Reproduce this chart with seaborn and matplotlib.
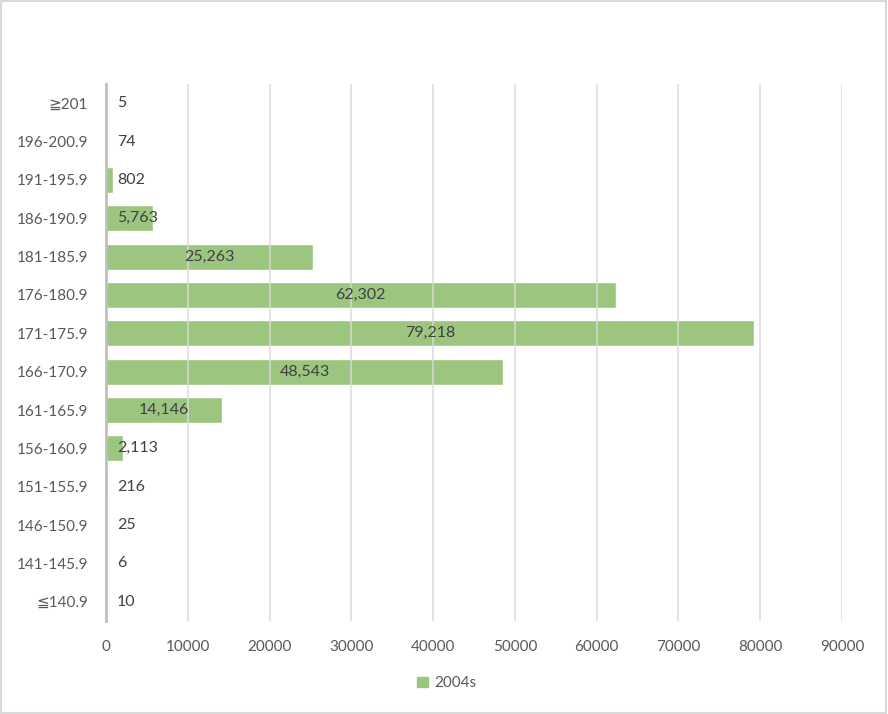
import matplotlib
matplotlib.use("Agg")
import matplotlib.pyplot as plt
import matplotlib.patches as mpatches
import seaborn as sns
import pandas as pd

# height ranges (top of chart first) and counts for 2004s
ranges = ['≧201', '196-200.9', '191-195.9', '186-190.9', '181-185.9', '176-180.9',
          '171-175.9', '166-170.9', '161-165.9', '156-160.9', '151-155.9',
          '146-150.9', '141-145.9', '≦140.9']
counts = [5, 74, 802, 5763, 25263, 62302, 79218, 48543, 14146, 2113, 216, 25, 6, 10]
xticks = [0, 10000, 20000, 30000, 40000, 50000, 60000, 70000, 80000, 90000]
series_name = '2004s'

df = pd.DataFrame({'range': ranges, 'count': counts})

sns.set_style('white')
plt.rcParams['font.family'] = ['Lato', 'DejaVu Sans']

txt = '#595959'
bar_col = '#9cc57f'
fs = 11

fig = plt.figure(figsize=(8.88, 7.14), dpi=100)
ax = fig.add_axes([0.1194, 0.1303, 0.8288, 0.7521])

sns.barplot(data=df, x='count', y='range', orient='h', color=bar_col,
            width=0.68, saturation=1, ax=ax)

ax.set_xlim(0, 90000)
ax.set_xticks(xticks)
ax.set_xticklabels([str(t) for t in xticks])
ax.set_xlabel('')
ax.set_ylabel('')
ax.grid(axis='x', color='#d9d9d9', linewidth=1.3, alpha=0.8)
ax.set_axisbelow(False)
ax.tick_params(axis='x', length=0, pad=14, labelsize=fs, labelcolor=txt)
ax.tick_params(axis='y', length=0, pad=13, labelsize=fs, labelcolor=txt)
for s in ['top', 'right', 'bottom']:
    ax.spines[s].set_visible(False)
ax.spines['left'].set_color('#bfbfbf')
ax.spines['left'].set_linewidth(2)
ax.spines['left'].set_zorder(5)

# data labels, centred on the bar but kept clear of the axis
for i, v in enumerate(counts):
    if v < 8000:
        ax.text(1350, i, f'{v:,}', ha='left', va='center', fontsize=fs + 0.5, color='#404040')
    else:
        ax.text(v / 2, i, f'{v:,}', ha='center', va='center', fontsize=fs + 0.5, color='#404040')

handle = mpatches.Patch(color=bar_col, label=series_name)
fig.legend(handles=[handle], loc='center', bbox_to_anchor=(0.503, 0.043),
           frameon=False, fontsize=fs, labelcolor=txt, handlelength=0.7,
           handleheight=0.7, handletextpad=0.4)

border = mpatches.Rectangle((0.001, 0.001), 0.997, 0.997, transform=fig.transFigure,
                            fill=False, edgecolor='#d9d9d9', linewidth=1.5)
fig.patches.append(border)

fig.savefig('out.png', dpi=100)
